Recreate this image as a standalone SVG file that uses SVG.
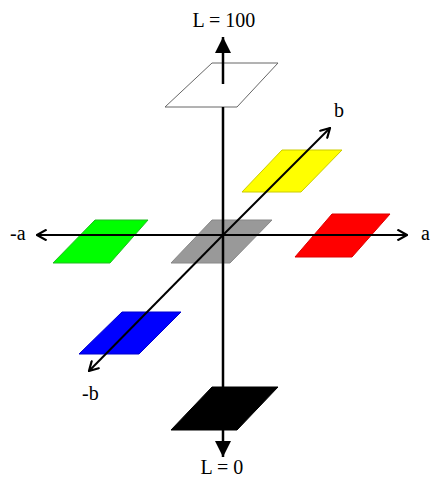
<svg xmlns="http://www.w3.org/2000/svg" width="431" height="478" viewBox="0 0 431 478">
<style>
text{font-family:"Liberation Serif","Times New Roman",serif;font-size:20px;fill:#000}
.ax{stroke:#000;stroke-width:2;fill:none}
.vax{stroke:#000;stroke-width:2.5;fill:none}
</style>
<defs>
<marker id="tri" viewBox="0 0 10 10" refX="10" refY="5" markerWidth="16" markerHeight="16" markerUnits="userSpaceOnUse" orient="auto">
<path d="M0,0 L10,5 L0,10 Z" fill="#000"/>
</marker>
<marker id="chev" viewBox="0 0 10 10" refX="9" refY="5" markerWidth="12" markerHeight="12" markerUnits="userSpaceOnUse" orient="auto">
<path d="M1,0.5 L9,5 L1,9.5" fill="none" stroke="#000" stroke-width="1.8"/>
</marker>
</defs>
<rect width="431" height="478" fill="#fff"/>
<g id="white"><polygon points="212,63 278,63 237,107 165,107" fill="#fff" stroke="#666" stroke-width="1"/></g>
<g id="green"><polygon points="95,220 148,220 110,263 53,263" fill="#00ff00" stroke="#22bb22" stroke-width="1"/></g>
<g id="gray"><polygon points="212,220 272,220 230,263 171,263" fill="#999" stroke="#888" stroke-width="1"/></g>
<g id="red"><polygon points="332,214 390,214 352,257 295,257" fill="#ff0000" stroke="#dd0000" stroke-width="1"/></g>
<g id="yellow"><polygon points="282,150 342,150 301,192 242,192" fill="#ffff00" stroke="#cccc00" stroke-width="1"/></g>
<g id="blue"><polygon points="122,312 181,312 139,354 79,354" fill="#0000ff" stroke="#0000cc" stroke-width="1"/></g>
<g id="connectors">
<line class="vax" x1="223" y1="84" x2="223" y2="37" marker-end="url(#tri)"/>
<line class="vax" x1="223" y1="107" x2="223" y2="400"/>
<line class="ax" x1="223" y1="235" x2="407" y2="235" marker-end="url(#chev)"/>
<line class="ax" x1="223" y1="235" x2="37" y2="235" marker-end="url(#chev)"/>
<line class="ax" x1="223" y1="235" x2="330" y2="128" marker-end="url(#chev)"/>
<line class="ax" x1="223" y1="235" x2="89" y2="371" marker-end="url(#chev)"/>
</g>
<g id="black"><polygon points="212,387 278,387 237,430 171,430" fill="#000" stroke="#000" stroke-width="1"/></g>
<g id="connectors-bottom">
<line class="vax" x1="223" y1="430" x2="223" y2="457" marker-end="url(#tri)"/>
</g>
<g id="labels">
<text x="224" y="27" text-anchor="middle">L = 100</text>
<text x="222" y="474" text-anchor="middle">L = 0</text>
<text x="10" y="240">-a</text>
<text x="421" y="240">a</text>
<text x="334" y="117">b</text>
<text x="82" y="400">-b</text>
</g>
</svg>
